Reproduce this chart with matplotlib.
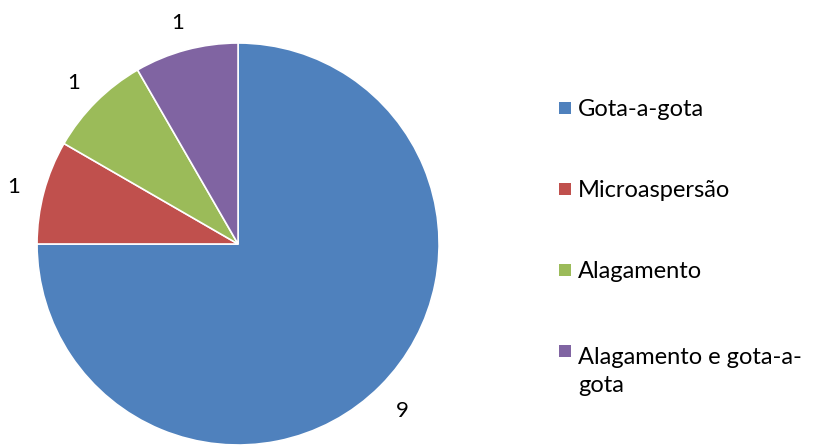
import numpy as np
import matplotlib
matplotlib.use("Agg")
import matplotlib.pyplot as plt
from matplotlib.patches import Rectangle
from matplotlib.transforms import offset_copy

categories = ["Gota-a-gota", "Microaspersão", "Alagamento", "Alagamento e gota-a-\ngota"]
values = [9, 1, 1, 1]
colors = ["#4F81BD", "#C0504D", "#9BBB59", "#8064A2"]

plt.rcParams['font.family'] = ['Lato', 'DejaVu Sans']

fig = plt.figure(figsize=(8.14, 4.48), dpi=100)
ax = fig.add_axes([0.0455, 0.0067, 0.4939, 0.8973])
wedges, _ = ax.pie(values, colors=colors, startangle=90, counterclock=False,
                   wedgeprops=dict(edgecolor='white', linewidth=1.2))
ax.set_xlim(-1, 1)
ax.set_ylim(-1, 1)
ax.set_aspect('auto')

lab_tr = offset_copy(ax.transData, fig=fig, x=0, y=-3, units='dots')
for w, v in zip(wedges, values):
    ang = np.deg2rad((w.theta1 + w.theta2) / 2)
    r = 1.155
    ax.text(r * np.cos(ang), r * np.sin(ang), str(v), ha='center', va='center',
            fontsize=16, color='black', clip_on=False, transform=lab_tr)

# legend
y0 = 448 - 108
step = 81
gap = 33
for i, (c, lab) in enumerate(zip(colors, categories)):
    yc = y0 - i * step
    n = lab.count("\n")
    fig.patches.append(Rectangle((559 / 814, (yc - 6) / 448), 12 / 814, 12 / 448,
                                 transform=fig.transFigure, facecolor=c, edgecolor='none'))
    fig.text(578 / 814, (yc - 8 - gap * n) / 448, lab, ha='left', va='baseline', fontsize=17,
             linespacing=1.4, color='black')

fig.savefig("out.png", dpi=100)
